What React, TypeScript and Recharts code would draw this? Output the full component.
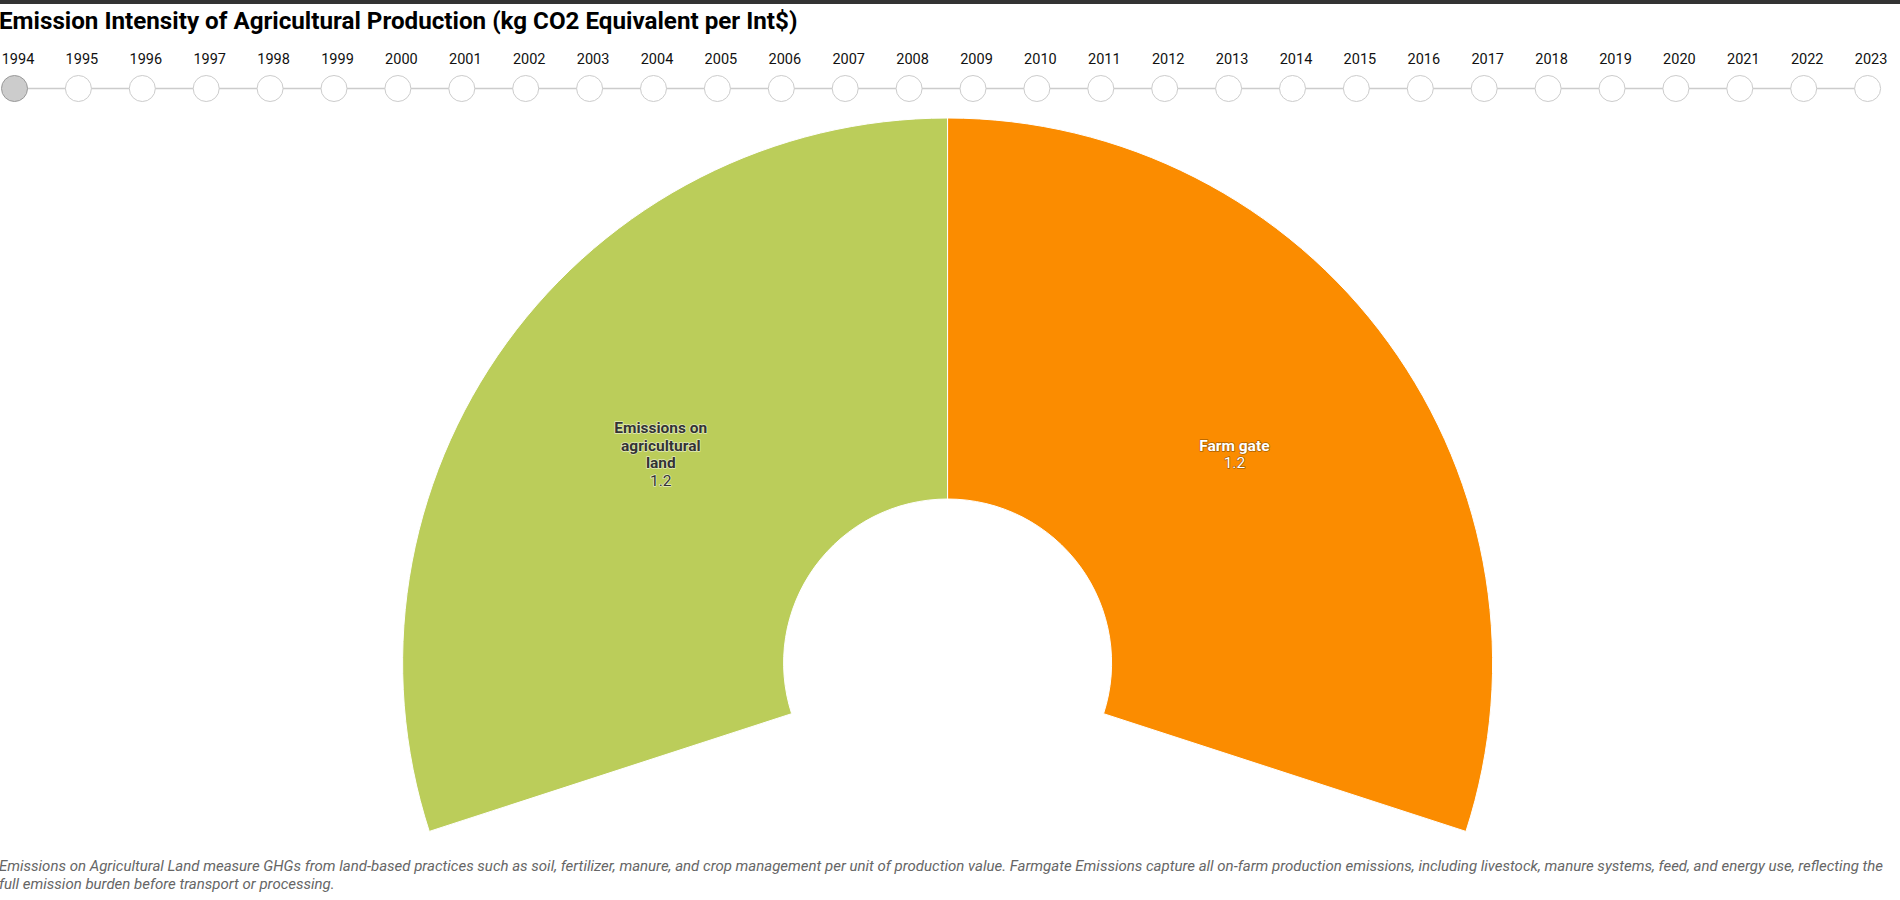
import { Cell, Pie, PieChart } from "recharts";

const years = [
  "1994", "1995", "1996", "1997", "1998", "1999", "2000", "2001", "2002", "2003",
  "2004", "2005", "2006", "2007", "2008", "2009", "2010", "2011", "2012", "2013",
  "2014", "2015", "2016", "2017", "2018", "2019", "2020", "2021", "2022", "2023",
];
const selectedYear = "1994";

const segmentNames = ["Emissions on agricultural land", "Farm gate"];
const segmentValues = [1.2, 1.2];
const segmentColors = ["#bbcd5a", "#fb8c00"];
const labelColors = ["#333333", "#ffffff"];
const labelOutlines = ["#ffffff", "#000000"];

const title = "Emission Intensity of Agricultural Production (kg CO2 Equivalent per Int$)";
const footnote =
  "Emissions on Agricultural Land measure GHGs from land-based practices such as soil, fertilizer, manure, and crop management per unit of production value. Farmgate Emissions capture all on-farm production emissions, including livestock, manure systems, feed, and energy use, reflecting the full emission burden before transport or processing.";

const FONT = "Roboto, 'Noto Sans', sans-serif";
const RAD = Math.PI / 180;

const chartRows = segmentNames.map((name, i) => ({ name, value: segmentValues[i] }));

function wrapWords(text: string, maxChars: number): string[] {
  const lines: string[] = [];
  let current = "";
  for (const word of text.split(" ")) {
    const next = current ? `${current} ${word}` : word;
    if (next.length > maxChars && current) {
      lines.push(current);
      current = word;
    } else {
      current = next;
    }
  }
  if (current) lines.push(current);
  return lines;
}

function renderLabel(props: any) {
  const { cx, cy, midAngle, innerRadius, outerRadius, index, name, value } = props;
  const r = (innerRadius + outerRadius) / 2;
  const x = cx + r * Math.cos(-midAngle * RAD);
  const y = cy + r * Math.sin(-midAngle * RAD);
  const lines = [...wrapWords(String(name), 12), String(value)];
  const lineHeight = 17.5;
  const top = y - ((lines.length - 1) * lineHeight) / 2;
  return (
    <text
      x={x}
      y={top}
      textAnchor="middle"
      dominantBaseline="central"
      fontFamily={FONT}
      fontSize={15.5}
      fill={labelColors[index]}
      stroke={labelOutlines[index]}
      strokeOpacity={index === 0 ? 0.6 : 0.35}
      strokeWidth={1.5}
      strokeLinejoin="round"
      style={{ paintOrder: "stroke" }}
    >
      {lines.map((line, i) => (
        <tspan key={i} x={x} y={top + i * lineHeight} fontWeight={i < lines.length - 1 ? 700 : 400}>
          {line}
        </tspan>
      ))}
    </text>
  );
}

function YearTimeline() {
  const startX = 14.5;
  const step = 63.9;
  const circleY = 88.5;
  return (
    <svg width={1900} height={110} style={{ position: "absolute", left: 0, top: 0 }}>
      <line
        x1={startX}
        x2={startX + step * (years.length - 1)}
        y1={circleY}
        y2={circleY}
        stroke="#cccccc"
        strokeWidth={1.5}
      />
      {years.map((year, i) => {
        const x = startX + step * i;
        const active = year === selectedYear;
        return (
          <g key={year}>
            <text
              x={x + 3.5}
              y={59}
              textAnchor="middle"
              dominantBaseline="central"
              fontFamily={FONT}
              fontSize={14.5}
              fill="#111111"
            >
              {year}
            </text>
            <circle
              cx={x}
              cy={circleY}
              r={13}
              fill={active ? "#cccccc" : "#ffffff"}
              stroke={active ? "#999999" : "#cccccc"}
              strokeWidth={1}
            />
          </g>
        );
      })}
    </svg>
  );
}

export default function App() {
  return (
    <div style={{ position: "relative", width: 1900, height: 900, background: "#fff", overflow: "hidden" }}>
      <style>{`body{margin:0}`}</style>
      <div style={{ position: "absolute", left: 0, top: 0, width: 1900, height: 4, background: "#333333" }} />
      <div
        style={{
          position: "absolute",
          left: -1,
          top: 6,
          fontFamily: FONT,
          fontSize: 24.2,
          fontWeight: 700,
          color: "#000",
          lineHeight: "30px",
          whiteSpace: "nowrap",
        }}
      >
        {title}
      </div>
      <YearTimeline />
      <div style={{ position: "absolute", left: 0, top: 0 }}>
        <PieChart width={1900} height={900}>
          <Pie
            data={chartRows}
            dataKey="value"
            nameKey="name"
            cx={942.6}
            cy={658}
            startAngle={198}
            endAngle={-18}
            innerRadius={164}
            outerRadius={545}
            stroke="#ffffff"
            strokeWidth={1}
            labelLine={false}
            label={renderLabel}
            isAnimationActive={false}
          >
            {chartRows.map((row, i) => (
              <Cell key={row.name} fill={segmentColors[i]} />
            ))}
          </Pie>
        </PieChart>
      </div>
      <div
        style={{
          position: "absolute",
          left: -1,
          top: 857,
          width: 1902,
          fontFamily: FONT,
          fontSize: 15,
          fontStyle: "italic",
          lineHeight: "18px",
          color: "#666666",
        }}
      >
        {footnote}
      </div>
    </div>
  );
}
